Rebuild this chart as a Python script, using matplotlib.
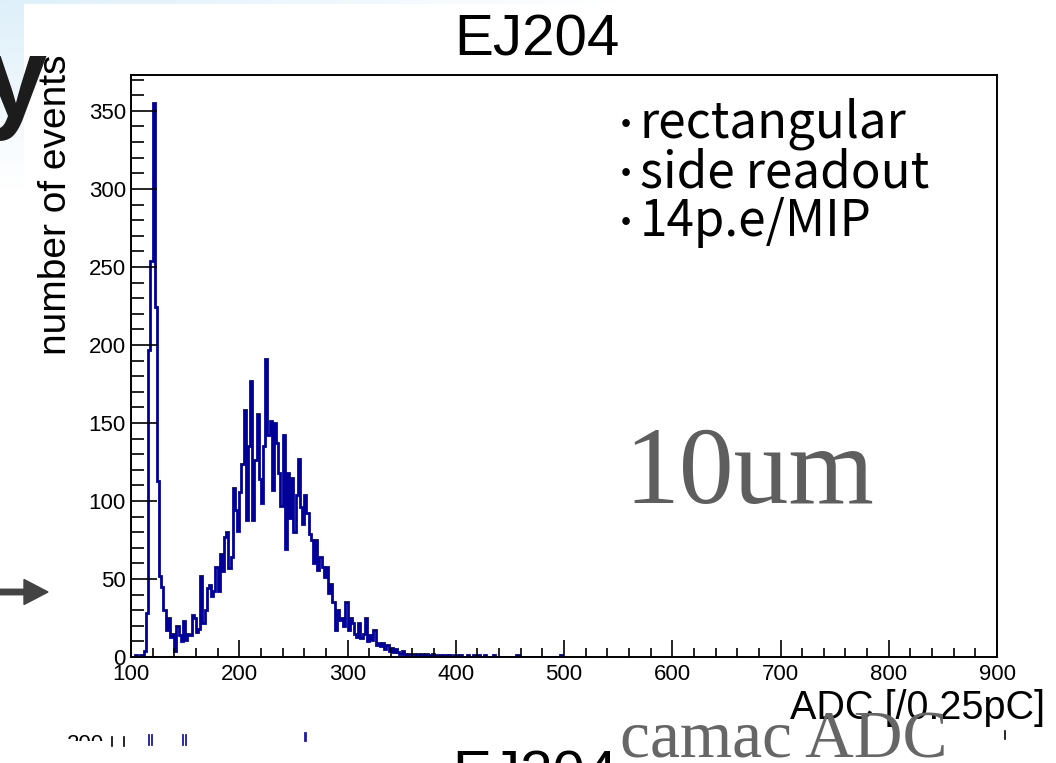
import matplotlib
matplotlib.use("Agg")
import matplotlib.pyplot as plt
import numpy as np
from matplotlib.patches import Rectangle, FancyArrow
from matplotlib.ticker import MultipleLocator
from matplotlib.transforms import Bbox, TransformedBbox

# ---------------- data ----------------
bin_start = 100
bin_width = 2
counts = [
    0, 0, 1, 0, 1, 1, 4, 28, 197, 254,            # 100-118
    355, 224, 113, 52, 45, 30, 17, 25, 13, 15,    # 120-138
    4, 20, 14, 10, 23, 11, 15, 14, 27, 25,        # 140-158
    16, 18, 52, 22, 30, 44, 46, 39, 42, 58,       # 160-178
    42, 66, 55, 77, 80, 57, 64, 108, 94, 81,      # 180-198
    106, 124, 158, 88, 135, 177, 88, 126, 156, 114,  # 200-218
    99, 135, 191, 142, 151, 107, 150, 137, 118, 97,  # 220-238
    142, 69, 118, 89, 115, 80, 104, 127, 96, 85,  # 240-258
    104, 92, 79, 75, 60, 75, 56, 64, 58, 51,      # 260-278
    58, 41, 47, 35, 17, 30, 24, 25, 20, 35,       # 280-298
    17, 25, 22, 15, 13, 22, 12, 15, 25, 10,       # 300-318
    14, 11, 17, 8, 9, 7, 9, 5, 8, 4,              # 320-338
    6, 3, 5, 3, 2, 4, 2, 1, 2, 2,                 # 340-358
    2, 1, 2, 1, 2, 1, 2, 1, 1, 2,                 # 360-378
    0, 1, 1, 0, 1, 1, 0, 1, 0, 1,                 # 380-398
    1, 0, 1, 0, 0, 1, 0, 0, 1, 0,                 # 400-418
    1, 0, 0, 1, 0, 0, 0, 1, 0, 0,                 # 420-438
    0, 0, 0, 0, 0, 0, 0, 0, 1, 0,                 # 440-458
    0, 0, 0, 0, 0, 0, 0, 0, 0, 0,                 # 460-478
    0, 0, 0, 0, 0, 0, 0, 0, 1, 0,                 # 480-498
]
x_ticks = [100, 200, 300, 400, 500, 600, 700, 800, 900]
y_ticks = [0, 50, 100, 150, 200, 250, 300, 350]
title = "EJ204"
x_label = "ADC [/0.25pC]"
y_label = "number of events"
notes = ["rectangular", "side readout", "14p.e/MIP"]

# ---------------- figure ----------------
W, H = 1056, 763
fig = plt.figure(figsize=(W / 100, H / 100), dpi=100)
fig.patch.set_facecolor("white")

def fx(px):
    return px / W

def fy(py):
    return 1 - py / H

# slide background
bg = fig.add_axes([0, 0, 1, 1], zorder=-10)
bg.set_xlim(0, W)
bg.set_ylim(H, 0)
bg.axis("off")
grad = np.linspace(0, 1, 300)
blue = np.array([0.87, 0.94, 0.98])
gx, gy = np.meshgrid(grad, grad)
t = np.clip(np.sqrt((gx * 1.0) ** 2 + (gy * 2.4) ** 2) * 1.7, 0, 1)[..., None]
img = blue * (1 - t) + np.ones(3) * t
bg.imshow(img, extent=[0, W, H, 0], aspect="auto", zorder=0)
bg.add_patch(Rectangle((24, 4), W, H, facecolor="white", edgecolor="none", zorder=1))

# arrow on the slide
bg.add_patch(FancyArrow(0, 592, 48, 0, width=5.5, head_width=25, head_length=24,
                        length_includes_head=True, color="#434343", zorder=5))

# fragments of the next chart at the bottom
bg.plot([112, 112], [737, 746], color="black", lw=1.2, zorder=3)
bg.plot([124, 124], [737, 746], color="black", lw=1.2, zorder=3)
bg.plot([1005, 1005], [731, 739], color="black", lw=1.2, zorder=3)
for xx in [149, 152, 183, 186]:
    bg.plot([xx, xx], [735, 745], color="#1a1aa6", lw=1.3, zorder=3)
bg.plot([305, 305], [733, 740], color="#1a1aa6", lw=2.0, zorder=3)
lab200 = bg.text(104, 734, "200", ha="right", va="top", fontsize=16,
                 family="Liberation Sans", zorder=3)
lab200.set_clip_box(TransformedBbox(Bbox([[0, 0], [W, 741]]), bg.transData))
lab200.set_clip_on(True)

# ---------------- main axes ----------------
ax = fig.add_axes([fx(131), fy(657), fx(997) - fx(131), fy(75) - fy(657)])
edges = bin_start + bin_width * np.arange(len(counts) + 1)
ax.stairs(counts, edges, color="#000099", lw=2.0, baseline=None)

ax.set_xlim(100, 900)
ax.set_ylim(0, 373)
ax.set_xticks(x_ticks)
ax.set_yticks(y_ticks)
ax.xaxis.set_minor_locator(MultipleLocator(20))
ax.yaxis.set_minor_locator(MultipleLocator(10))
for s in ax.spines.values():
    s.set_linewidth(1.4)
    s.set_color("black")
px2pt = 72 / 100
ax.xaxis.set_tick_params(which="major", direction="in", length=17.5 * px2pt, width=1.2, pad=7 * px2pt)
ax.xaxis.set_tick_params(which="minor", direction="in", length=9 * px2pt, width=1.2)
ax.yaxis.set_tick_params(which="major", direction="in", length=26 * px2pt, width=1.2, pad=5 * px2pt)
ax.yaxis.set_tick_params(which="minor", direction="in", length=13 * px2pt, width=1.2)
for lab in ax.get_xticklabels() + ax.get_yticklabels():
    lab.set_fontfamily("Liberation Sans")
    lab.set_fontsize(16)

# titles and labels
fig.text(fx(537), fy(40), title, ha="center", va="center", fontsize=42,
         family="Liberation Sans")
fig.text(fx(1045), fy(708), x_label, ha="right", va="center", fontsize=28.5,
         family="Liberation Sans")
fig.text(fx(56), fy(205), y_label, ha="center", va="center", rotation=90,
         fontsize=28, family="Liberation Sans")

# bullet notes
for i, s in enumerate(notes):
    yb = 138 + 49 * i
    fig.text(fx(626), fy(yb - 1), "・", ha="center", va="baseline", fontsize=26,
             family=["Noto Sans CJK JP", "DejaVu Sans"])
    fig.text(fx(640), fy(yb), s, ha="left", va="baseline", fontsize=35.5,
             family=["Noto Sans CJK JP", "DejaVu Sans"])

# slide annotations
fig.text(fx(624), fy(503), "10um", ha="left", va="baseline", fontsize=79,
         family="Liberation Serif", color="#5e5e5e")
fig.text(fx(620), fy(758), "camac ADC", ha="left", va="baseline", fontsize=48.5,
         family="Liberation Serif", color="#666666")
fig.text(fx(46), fy(117), "y", ha="right", va="baseline", fontsize=83,
         fontweight="bold", family="Liberation Sans", color="#1c1c1c")

# next chart's cut-off title
fig.text(fx(535), fy(749), title, ha="center", va="top", fontsize=42,
         family="Liberation Sans")

fig.savefig("out.png", dpi=100)
